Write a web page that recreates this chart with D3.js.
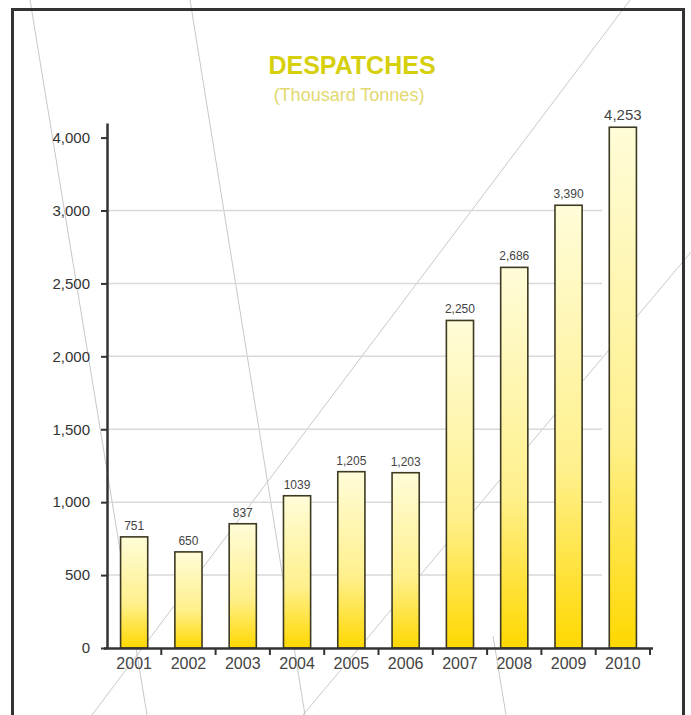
<!DOCTYPE html>
<html>
<head>
<meta charset="utf-8">
<script src="https://cdn.jsdelivr.net/npm/d3@7"></script>
<style>
  body { margin: 0; background: #fff; }
  svg { display: block; font-family: "Liberation Sans", Arial, sans-serif; }
</style>
</head>
<body>
<div id="chart"></div>
<script>
// data
const years = ["2001", "2002", "2003", "2004", "2005", "2006", "2007", "2008", "2009", "2010"];
const valueLabels = ["751", "650", "837", "1039", "1,205", "1,203", "2,250", "2,686", "3,390", "4,253"];
// bar heights as they are drawn in the picture (in axis units)
const barHeights = [762, 659, 852, 1044, 1209, 1202, 2246, 2610, 3036, 3571];
const yTickValues = [0, 500, 1000, 1500, 2000, 2500, 3000, 3500];
const yTickLabels = ["0", "500", "1,000", "1,500", "2,000", "2,500", "3,000", "4,000"];
const gridValues = [500, 1000, 1500, 2000, 2500, 3000];
// faint background strokes of the scanned page
const bgLines = [
    [[30, 0], [147, 715]],
    [[190, 0], [305, 715]],
    [[630, 0], [92, 715]],
    [[691, 252], [303, 715]],
    [[493, 636], [506, 715]]
];

const width = 691, height = 715;

const svg = d3.select("#chart")
    .append("svg")
    .attr("width", width)
    .attr("height", height);

const x = d3.scaleBand()
    .domain(years)
    .range([107, 650])
    .paddingInner(0.5)
    .paddingOuter(0.25);

const y = d3.scaleLinear()
    .domain([0, 3600])
    .range([648, 123]);

// background strokes
svg.append("g")
    .selectAll("line")
    .data(bgLines)
    .enter().append("line")
    .attr("x1", d => d[0][0]).attr("y1", d => d[0][1])
    .attr("x2", d => d[1][0]).attr("y2", d => d[1][1])
    .attr("stroke", "#c8c8c8")
    .attr("stroke-width", 1);

// frame (open at the bottom)
svg.append("path")
    .attr("d", "M12.5,715 V9.5 H683.5 V715")
    .attr("fill", "none")
    .attr("stroke", "#333")
    .attr("stroke-width", 3);

// titles
svg.append("text")
    .attr("x", 352)
    .attr("y", 74)
    .attr("text-anchor", "middle")
    .attr("font-size", 25)
    .attr("font-weight", "bold")
    .attr("fill", "#d6cf0c")
    .text("DESPATCHES");

svg.append("text")
    .attr("x", 349)
    .attr("y", 101)
    .attr("text-anchor", "middle")
    .attr("font-size", 18)
    .attr("fill", "#e2d970")
    .text("(Thousard Tonnes)");

// gridlines
svg.append("g")
    .selectAll("line")
    .data(gridValues)
    .enter().append("line")
    .attr("x1", 107)
    .attr("x2", 602)
    .attr("y1", d => y(d))
    .attr("y2", d => y(d))
    .attr("stroke", "#d9d9d9")
    .attr("stroke-width", 1.5);

// bar gradient
const grad = svg.append("defs")
    .append("linearGradient")
    .attr("id", "barGrad")
    .attr("x1", 0).attr("y1", 0)
    .attr("x2", 0).attr("y2", 1);
grad.append("stop").attr("offset", "0%").attr("stop-color", "#fffcd8");
grad.append("stop").attr("offset", "60%").attr("stop-color", "#fff08c");
grad.append("stop").attr("offset", "100%").attr("stop-color", "#ffd800");

svg.append("g")
    .selectAll("rect")
    .data(barHeights)
    .enter().append("rect")
    .attr("x", (d, i) => x(years[i]))
    .attr("y", d => y(d))
    .attr("width", x.bandwidth())
    .attr("height", d => y(0) - y(d))
    .attr("fill", "url(#barGrad)")
    .attr("stroke", "#3d3a22")
    .attr("stroke-width", 1.6);

// value labels
svg.append("g")
    .selectAll("text")
    .data(valueLabels)
    .enter().append("text")
    .attr("x", (d, i) => x(years[i]) + x.bandwidth() / 2)
    .attr("y", (d, i) => y(barHeights[i]) - 7)
    .attr("text-anchor", "middle")
    .attr("font-size", (d, i) => i === valueLabels.length - 1 ? 15 : 12)
    .attr("fill", "#444")
    .text(d => d);

// y axis
const yAxis = svg.append("g")
    .attr("transform", "translate(107,0)")
    .call(d3.axisLeft(y)
        .tickValues(yTickValues)
        .tickFormat((d, i) => yTickLabels[i])
        .tickSize(6)
        .tickSizeOuter(0)
        .tickPadding(11));
yAxis.select(".domain").attr("stroke", "#333").attr("stroke-width", 2.5);
yAxis.selectAll(".tick line").attr("stroke", "#333").attr("stroke-width", 2);
yAxis.selectAll(".tick text")
    .attr("font-size", 15)
    .attr("font-family", "Liberation Sans, Arial, sans-serif")
    .attr("fill", "#333");

// x axis
const xAxis = svg.append("g")
    .attr("transform", `translate(0,${y(0)})`)
    .call(d3.axisBottom(x).tickSize(0).tickPadding(10).tickSizeOuter(0));
xAxis.select(".domain")
    .attr("d", "M104,0.5H653")
    .attr("stroke", "#333")
    .attr("stroke-width", 2.5);
xAxis.selectAll(".tick text")
    .attr("font-size", 16)
    .attr("font-family", "Liberation Sans, Arial, sans-serif")
    .attr("fill", "#444");

// category separator ticks
const step = x.step();
xAxis.append("g")
    .selectAll("line")
    .data(d3.range(1, years.length + 1))
    .enter().append("line")
    .attr("x1", i => x.range()[0] + i * step)
    .attr("x2", i => x.range()[0] + i * step)
    .attr("y1", 0)
    .attr("y2", 7)
    .attr("stroke", "#333")
    .attr("stroke-width", 2);
</script>
</body>
</html>
